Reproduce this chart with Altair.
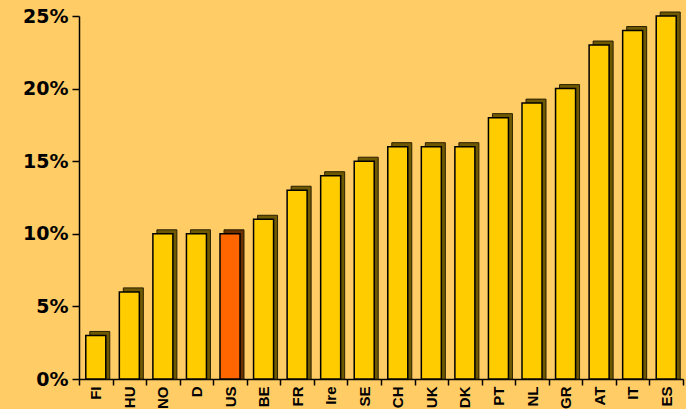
import altair as alt
import pandas as pd

countries = ["FI", "HU", "NO", "D", "US", "BE", "FR", "Ire", "SE", "CH", "UK", "DK", "PT", "NL", "GR", "AT", "IT", "ES"]
values = [0.03, 0.06, 0.10, 0.10, 0.10, 0.11, 0.13, 0.14, 0.15, 0.16, 0.16, 0.16, 0.18, 0.19, 0.20, 0.23, 0.24, 0.25]
highlight = ["US"]

df = pd.DataFrame({"country": countries, "value": values})
df["hl"] = df["country"].isin(highlight)

x = alt.X("country:N", sort=countries, title=None,
          scale=alt.Scale(paddingInner=0, paddingOuter=0),
          axis=alt.Axis(labelAngle=270, labelAlign="right", labelBaseline="middle",
                        labelFont="Liberation Sans", labelFontWeight="bold", labelFontSize=15,
                        labelColor="black", tickBand="extent", tickSize=6, tickColor="black",
                        domainColor="black", tickWidth=1.5, domainWidth=1.5, labelPadding=1))
y = alt.Y("value:Q", title=None,
          scale=alt.Scale(domain=[0, 0.25], nice=False),
          axis=alt.Axis(values=[0, 0.05, 0.10, 0.15, 0.20, 0.25], format=".0%", grid=False,
                        labelFont="DejaVu Sans", labelFontWeight="bold", labelFontSize=19,
                        labelColor="black", tickSize=7, tickColor="black", domainColor="black",
                        tickWidth=1.5, domainWidth=1.5, labelPadding=4))

base = alt.Chart(df)

back = base.mark_bar(size=20, xOffset=4, yOffset=-4, y2Offset=0, stroke="#2a2000", strokeWidth=1).encode(
    x=x, y=y, y2=alt.datum(0),
    color=alt.condition("datum.hl", alt.value("#6a3000"), alt.value("#6e5800")),
)
front = base.mark_bar(size=20, stroke="black", strokeWidth=1.5).encode(
    x=x, y=y,
    color=alt.condition("datum.hl", alt.value("#FF6600"), alt.value("#FFCC00")),
)

chart = alt.layer(back, front).properties(
    width=604, height=363,
    background="#FFCC66",
    padding={"left": 79, "top": 16, "right": 3, "bottom": 30},
    autosize=alt.AutoSizeParams(type="none"),
).configure_view(stroke=None)

chart.save("out.html", embed_options={"renderer": "svg", "actions": False})
